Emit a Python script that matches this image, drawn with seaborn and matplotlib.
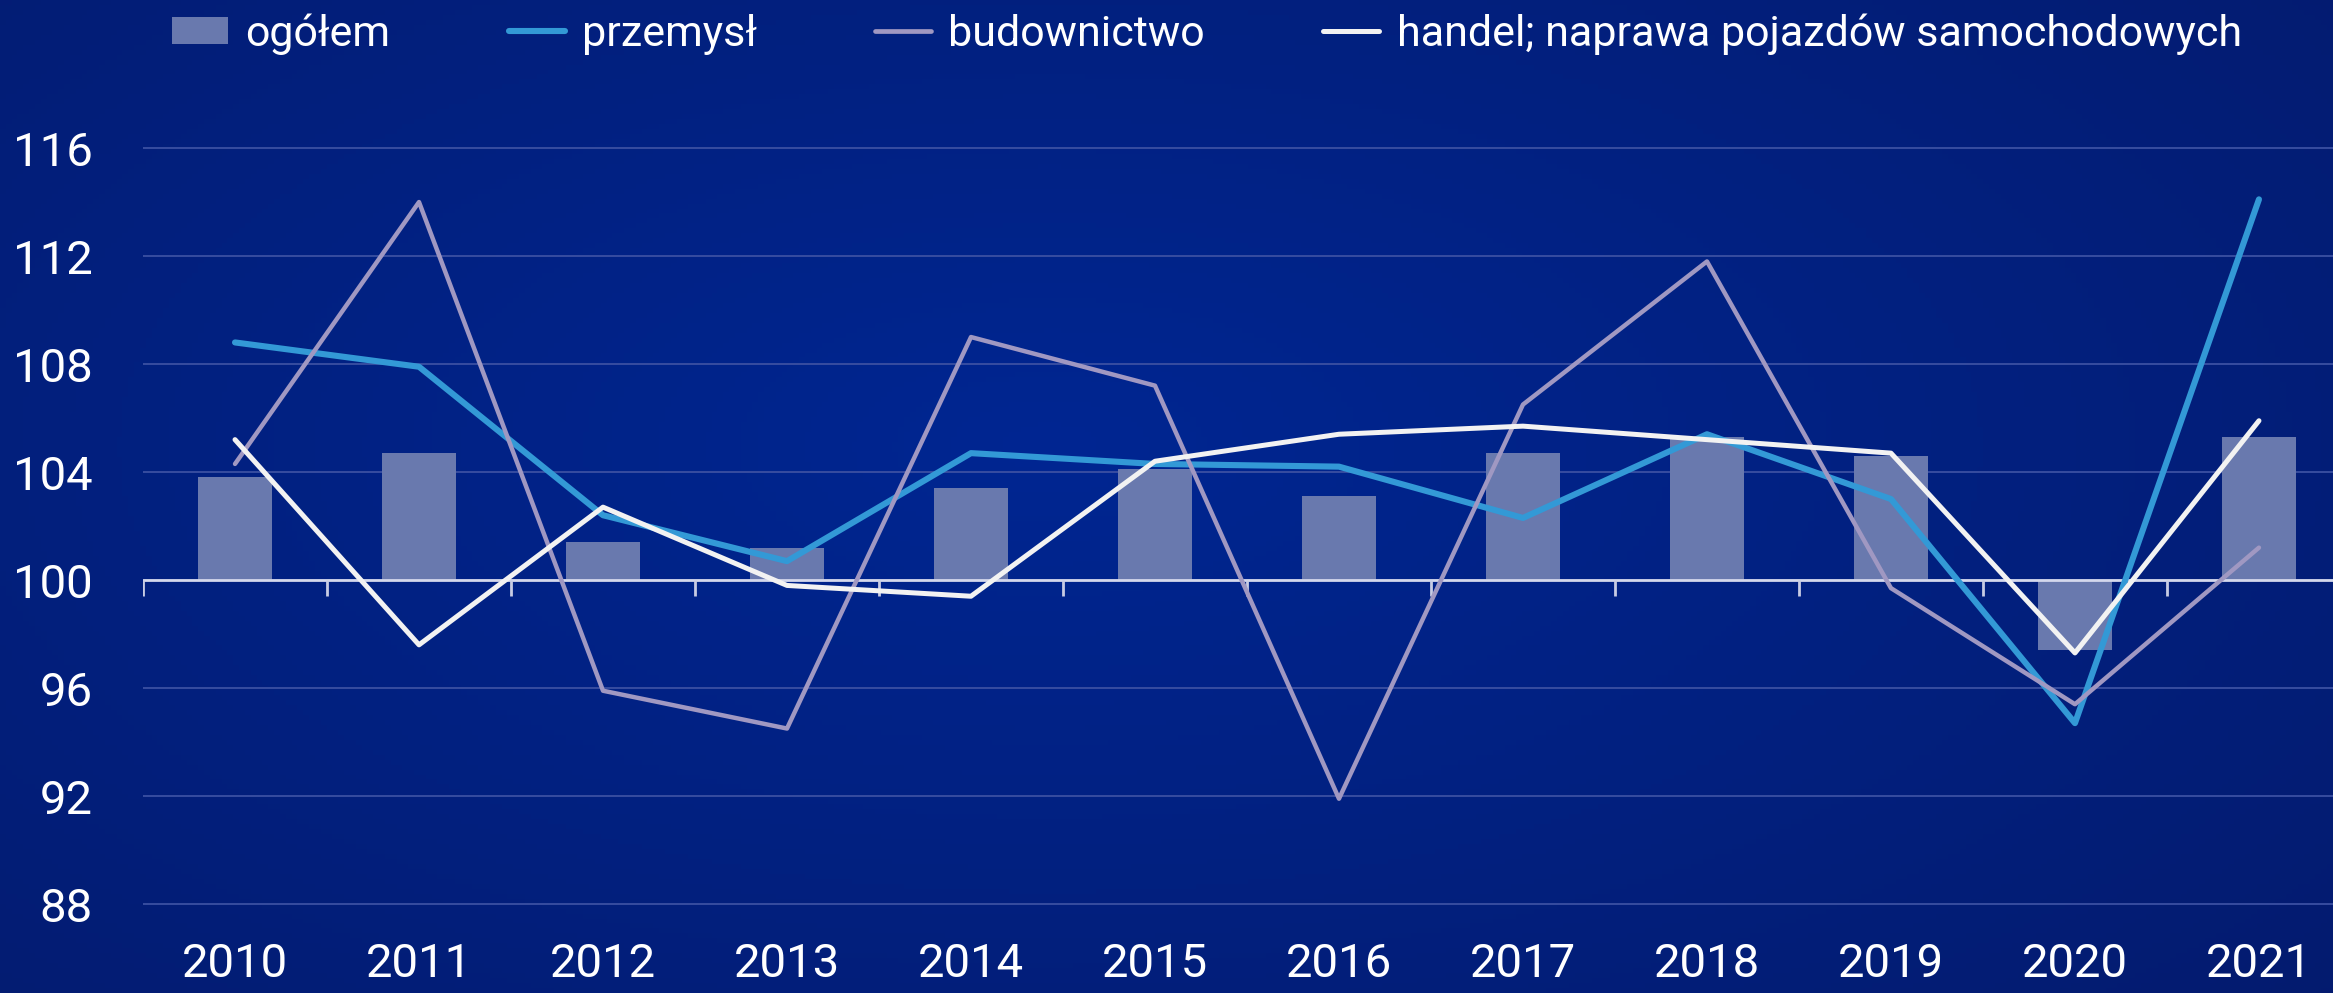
import numpy as np
import pandas as pd
import matplotlib.pyplot as plt
import seaborn as sns
from matplotlib.patches import Patch
from matplotlib.lines import Line2D

# dane
lata = ['2010', '2011', '2012', '2013', '2014', '2015', '2016', '2017', '2018', '2019', '2020', '2021']
ogolem = [103.8, 104.7, 101.4, 101.2, 103.4, 104.1, 103.1, 104.7, 105.3, 104.6, 97.4, 105.3]
przemysl = [108.8, 107.9, 102.4, 100.7, 104.7, 104.3, 104.2, 102.3, 105.4, 103.0, 94.7, 114.1]
budownictwo = [104.3, 114.0, 95.9, 94.5, 109.0, 107.2, 91.9, 106.5, 111.8, 99.7, 95.4, 101.2]
handel = [105.2, 97.6, 102.7, 99.8, 99.4, 104.4, 105.4, 105.7, 105.2, 104.7, 97.3, 105.9]
poziom = 100
y_ticks = [88, 92, 96, 100, 104, 108, 112, 116]

dane = pd.DataFrame({'rok': lata, 'ogolem': ogolem, 'przemysl': przemysl,
                     'budownictwo': budownictwo, 'handel': handel})
dane['poz'] = np.arange(len(lata))
dane['zmiana'] = dane['ogolem'] - poziom

sns.set_style('white')
plt.rcParams['font.family'] = ['Roboto', 'DejaVu Sans']

kol_slupek = '#6979AE'
kol_przemysl = '#3399D6'
kol_budow = '#A098C2'
kol_handel = '#F2F2F2'

fig = plt.figure(figsize=(23.33, 9.93), dpi=100)

# tlo z gradientem
tlo = fig.add_axes([0, 0, 1, 1], zorder=-1)
gx, gy = np.meshgrid(np.linspace(0, 1, 400), np.linspace(0, 1, 200))
r = np.sqrt(((gx - 0.45) / 0.8) ** 2 + ((gy - 0.45) / 0.9) ** 2)
r = np.clip(r, 0, 1)
c0 = np.array([0, 38, 146]) / 255
c1 = np.array([4, 26, 108]) / 255
grad = c0[None, None, :] * (1 - r[..., None]) + c1[None, None, :] * r[..., None]
tlo.imshow(grad, extent=[0, 1, 0, 1], aspect='auto', origin='upper')
tlo.axis('off')

ax = fig.add_axes([0.0613, 0.0624, 0.9464, 0.8293])
ax.set_zorder(1)
ax.patch.set_alpha(0)

sns.barplot(data=dane, x='rok', y='zmiana', bottom=poziom, color=kol_slupek, saturation=1,
            width=0.4, errorbar=None, ax=ax, zorder=2, linewidth=0)

sns.lineplot(x=dane['poz'], y=dane['przemysl'], color=kol_przemysl, linewidth=4.4, ax=ax,
             zorder=4, solid_capstyle='round')
sns.lineplot(x=dane['poz'], y=dane['budownictwo'], color=kol_budow, linewidth=3.2, ax=ax,
             zorder=5, solid_capstyle='round')
sns.lineplot(x=dane['poz'], y=dane['handel'], color=kol_handel, linewidth=3.6, ax=ax,
             zorder=6, solid_capstyle='round')

ax.set_xlim(-0.5, len(lata) - 0.5)
ax.set_ylim(87, 117.5)
ax.set_yticks(y_ticks)
ax.set_xticks(dane['poz'])
ax.set_xticklabels(lata)
ax.set_xlabel('')
ax.set_ylabel('')

ax.yaxis.grid(True, color='#3B50A2', linewidth=1.3)
ax.xaxis.grid(False)
ax.set_axisbelow(True)
for s in ax.spines.values():
    s.set_visible(False)

# os kategorii na poziomie 100
ax.axhline(poziom, color='#D4D8EC', linewidth=2, zorder=3)
ax.vlines(np.arange(len(lata) + 1) - 0.5, poziom - 0.6, poziom, color='#C8CCE4', linewidth=2, zorder=3)

ax.tick_params(axis='y', length=0, pad=36, labelsize=34, labelcolor='white')
ax.tick_params(axis='x', length=0, pad=8, labelsize=34, labelcolor='white')

uchwyty = [
    Patch(facecolor=kol_slupek, edgecolor='none', label='ogółem'),
    Line2D([0], [0], color=kol_przemysl, linewidth=4.4, solid_capstyle='round', label='przemysł'),
    Line2D([0], [0], color=kol_budow, linewidth=3.4, solid_capstyle='round', label='budownictwo'),
    Line2D([0], [0], color=kol_handel, linewidth=3.6, solid_capstyle='round',
           label='handel; naprawa pojazdów samochodowych'),
]
leg = fig.legend(handles=uchwyty, loc='center left', bbox_to_anchor=(172 / 2333, 1 - 34 / 993),
                 bbox_transform=fig.transFigure, ncol=4, frameon=False, fontsize=31,
                 handlelength=1.3, handleheight=0.6, handletextpad=0.4, columnspacing=2.75,
                 borderpad=0, borderaxespad=0)
for t in leg.get_texts():
    t.set_color('white')

fig.savefig('out.png', dpi=100)
